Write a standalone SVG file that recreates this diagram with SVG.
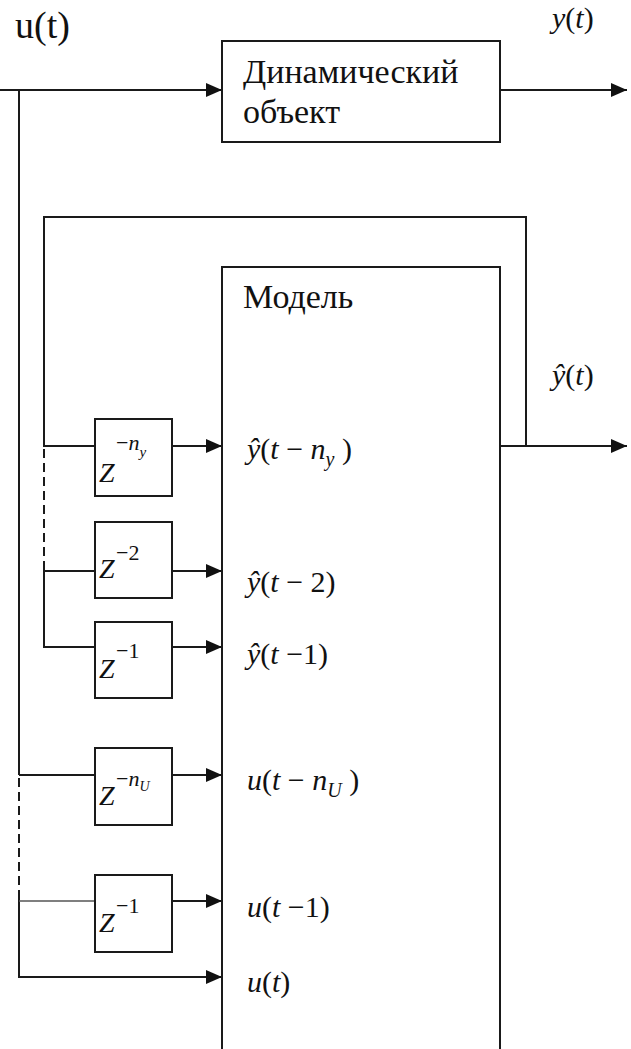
<svg xmlns="http://www.w3.org/2000/svg" width="631" height="1049" viewBox="0 0 631 1049">
<style>
.box{fill:#fff;stroke:#1a1a1a;stroke-width:2}
.w{fill:none;stroke:#1a1a1a;stroke-width:2}
.thin{fill:none;stroke:#555;stroke-width:1.4}
.dash{fill:none;stroke:#1a1a1a;stroke-width:2;stroke-dasharray:9 5}
text{fill:#111}
.lbl{font-size:30px}
.i{font-style:italic}
</style>
<defs>
<marker id="ah" markerUnits="userSpaceOnUse" markerWidth="16" markerHeight="14" refX="16" refY="7" orient="auto">
<path d="M0,0 L16,7 L0,14 z" fill="#111"/>
</marker>
</defs>
<rect width="631" height="1049" fill="#fff"/>

<g id="connectors">
<line class="w" x1="0" y1="90" x2="222" y2="90" marker-end="url(#ah)"/>
<line class="w" x1="500" y1="90" x2="627" y2="90" marker-end="url(#ah)"/>
<polyline class="w" points="19,90 19,775"/>
<line class="dash" x1="19" y1="778" x2="19" y2="893"/>
<polyline class="w" points="19,893 19,977 222,977" marker-end="url(#ah)"/>
<line class="w" x1="19" y1="775" x2="95" y2="775"/>
<line class="w" x1="172" y1="775" x2="222" y2="775" marker-end="url(#ah)"/>
<line class="thin" x1="19" y1="901" x2="95" y2="901"/>
<line class="w" x1="172" y1="901" x2="222" y2="901" marker-end="url(#ah)"/>
<polyline class="w" points="526,446 526,217 44,217 44,446 95,446"/>
<line class="dash" x1="44" y1="449" x2="44" y2="563"/>
<polyline class="w" points="44,563 44,647 95,647"/>
<line class="w" x1="44" y1="571" x2="95" y2="571"/>
<line class="w" x1="172" y1="446" x2="222" y2="446" marker-end="url(#ah)"/>
<line class="w" x1="172" y1="571" x2="222" y2="571" marker-end="url(#ah)"/>
<line class="w" x1="172" y1="647" x2="222" y2="647" marker-end="url(#ah)"/>
<line class="w" x1="500" y1="446" x2="627" y2="446" marker-end="url(#ah)"/>
</g>

<g font-family="Times New Roman, Liberation Serif, Tinos, Noto Serif, DejaVu Serif, FreeSerif, serif">
<g id="plant">
<rect class="box" x="222" y="41" width="278" height="101"/>
<text x="243" y="83" font-size="34">Динамический</text>
<text x="243" y="123" font-size="34">объект</text>
</g>

<g id="model">
<rect class="box" x="222" y="267" width="278" height="820"/>
<text x="243" y="308" font-size="34">Модель</text>
<text class="lbl" x="247" y="459"><tspan class="i">ŷ</tspan>(<tspan class="i">t</tspan> − <tspan class="i">n</tspan><tspan class="i" font-size="20" dy="7">y</tspan><tspan dy="-7"> )</tspan></text>
<text class="lbl" x="247" y="592"><tspan class="i">ŷ</tspan>(<tspan class="i">t</tspan> − 2)</text>
<text class="lbl" x="247" y="664"><tspan class="i">ŷ</tspan>(<tspan class="i">t</tspan> −1)</text>
<text class="lbl" x="247" y="790"><tspan class="i">u</tspan>(<tspan class="i">t</tspan> − <tspan class="i">n</tspan><tspan class="i" font-size="20" dy="7">U</tspan><tspan dy="-7"> )</tspan></text>
<text class="lbl" x="247" y="917"><tspan class="i">u</tspan>(<tspan class="i">t</tspan> −1)</text>
<text class="lbl" x="247" y="992"><tspan class="i">u</tspan>(<tspan class="i">t</tspan>)</text>
</g>

<g id="delay-ny">
<rect class="box" x="95" y="419" width="77" height="77"/>
<text x="99" y="482" font-size="28" font-style="italic">Z</text>
<text x="116" y="450" font-size="22">−<tspan font-style="italic">n</tspan><tspan font-style="italic" font-size="15" dy="7">y</tspan></text>
</g>
<g id="delay-y2">
<rect class="box" x="95" y="522" width="77" height="76"/>
<text x="99" y="578" font-size="28" font-style="italic">Z</text>
<text x="116" y="560" font-size="22">−2</text>
</g>
<g id="delay-y1">
<rect class="box" x="95" y="622" width="77" height="76"/>
<text x="99" y="678" font-size="28" font-style="italic">Z</text>
<text x="116" y="658" font-size="22">−1</text>
</g>
<g id="delay-nu">
<rect class="box" x="95" y="748" width="77" height="77"/>
<text x="99" y="805" font-size="28" font-style="italic">Z</text>
<text x="116" y="786" font-size="22">−<tspan font-style="italic">n</tspan><tspan font-style="italic" font-size="14" dy="5">U</tspan></text>
</g>
<g id="delay-u1">
<rect class="box" x="95" y="875" width="77" height="77"/>
<text x="99" y="932" font-size="28" font-style="italic">Z</text>
<text x="116" y="913" font-size="22">−1</text>
</g>

<g id="signals">
<text x="15" y="38" font-size="38">u(t)</text>
<text class="lbl" x="552" y="28" font-size="32"><tspan class="i">y</tspan>(<tspan class="i">t</tspan>)</text>
<text class="lbl" x="552" y="385" font-size="32"><tspan class="i">ŷ</tspan>(<tspan class="i">t</tspan>)</text>
</g>
</g>
</svg>
